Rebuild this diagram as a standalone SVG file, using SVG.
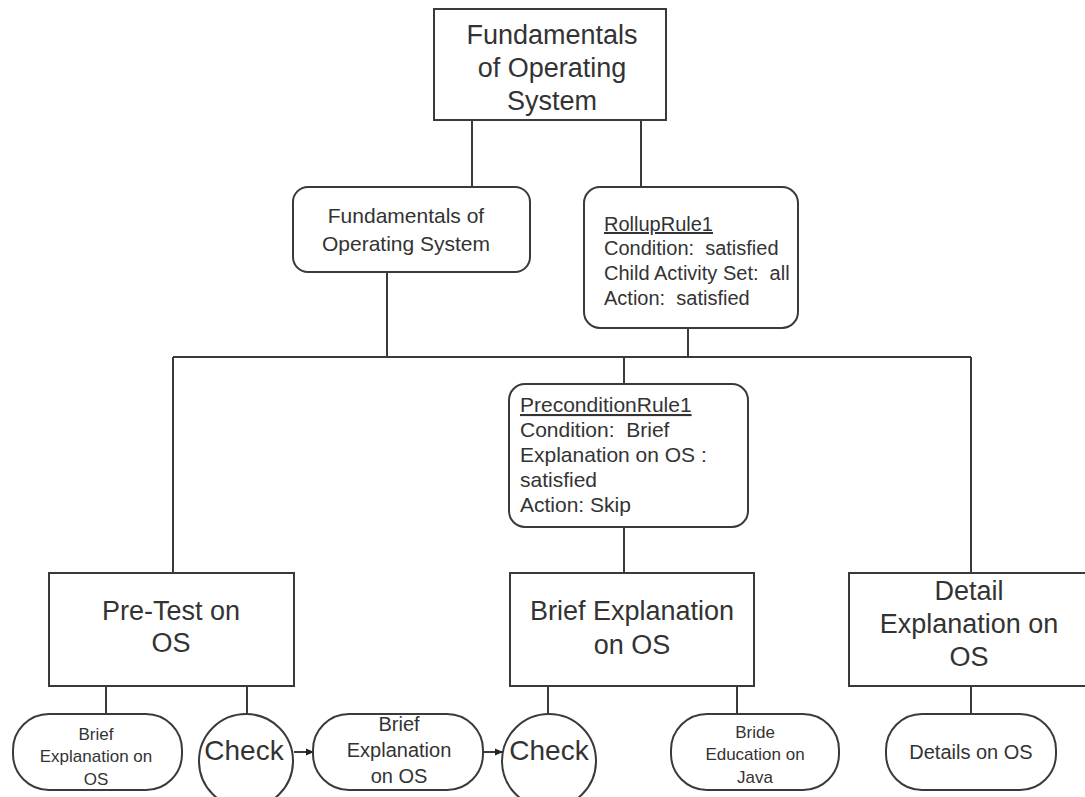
<svg xmlns="http://www.w3.org/2000/svg" width="1085" height="797" viewBox="0 0 1085 797">
<style>
.box{fill:#fff;stroke:#3a3a3a;stroke-width:2}
.ln{stroke:#3a3a3a;stroke-width:2;fill:none}
text{font-family:"Liberation Sans",Arial,sans-serif;fill:#333}
.c{text-anchor:middle}
.big{font-size:27px}
.mid{font-size:21px}
.rr{font-size:20px}
.sm{font-size:17px}
.u{text-decoration:underline}
</style>
<defs>
<marker id="ah" markerWidth="8" markerHeight="8" refX="7" refY="4" orient="auto" markerUnits="userSpaceOnUse">
<path d="M0,0.5 L8,4 L0,7.5 Z" fill="#222"/>
</marker>
</defs>
<rect width="1085" height="797" fill="#fff"/>
<g id="connectors">
<path class="ln" d="M472,120 V187 M641,120 V187 M387,272 V357 M688,328 V357 M173,357 H971 M173,357 V573 M624,357 V384 M624,527 V573 M971,357 V573 M106,686 V714 M247,686 V714 M548,686 V714 M737,686 V714 M971,686 V714"/>
<line class="ln" x1="294" y1="752" x2="313" y2="752" marker-end="url(#ah)"/>
<line class="ln" x1="483" y1="752" x2="502" y2="752" marker-end="url(#ah)"/>
</g>
<g id="top">
<rect class="box" x="434" y="9" width="232" height="111"/>
<text class="c big" x="552" y="44">Fundamentals</text>
<text class="c big" x="552" y="77">of Operating</text>
<text class="c big" x="552" y="110">System</text>
</g>
<g id="fos">
<rect class="box" x="293" y="187" width="237" height="85" rx="15"/>
<text class="c mid" x="406" y="223">Fundamentals of</text>
<text class="c mid" x="406" y="251">Operating System</text>
</g>
<g id="rollup">
<rect class="box" x="584" y="187" width="214" height="141" rx="16"/>
<text class="rr u" x="604" y="231">RollupRule1</text>
<text class="rr" x="604" y="255" xml:space="preserve">Condition:  satisfied</text>
<text class="rr" x="604" y="280" xml:space="preserve">Child Activity Set:  all</text>
<text class="rr" x="604" y="305" xml:space="preserve">Action:  satisfied</text>
</g>
<g id="precondition">
<rect class="box" x="509" y="384" width="239" height="143" rx="16"/>
<text class="mid u" x="520" y="412">PreconditionRule1</text>
<text class="mid" x="520" y="437" xml:space="preserve">Condition:  Brief</text>
<text class="mid" x="520" y="462">Explanation on OS :</text>
<text class="mid" x="520" y="487">satisfied</text>
<text class="mid" x="520" y="512">Action: Skip</text>
</g>
<g id="pretest">
<rect class="box" x="49" y="573" width="245" height="113"/>
<text class="c big" x="171" y="620">Pre-Test on</text>
<text class="c big" x="171" y="652">OS</text>
</g>
<g id="brief">
<rect class="box" x="510" y="573" width="244" height="113"/>
<text class="c big" x="632" y="620">Brief Explanation</text>
<text class="c big" x="632" y="654">on OS</text>
</g>
<g id="detail">
<rect class="box" x="849" y="573" width="245" height="113"/>
<text class="c big" x="969" y="600">Detail</text>
<text class="c big" x="969" y="633">Explanation on</text>
<text class="c big" x="969" y="666">OS</text>
</g>
<g id="brief1">
<rect class="box" x="13" y="714" width="169" height="76" rx="36"/>
<text class="c sm" x="96" y="740">Brief</text>
<text class="c sm" x="96" y="762">Explanation on</text>
<text class="c sm" x="96" y="785">OS</text>
</g>
<g id="check1">
<circle class="box" cx="246" cy="761" r="47"/>
<text class="c" style="font-size:28px" x="244" y="760">Check</text>
</g>
<g id="brief2">
<rect class="box" x="313" y="714" width="170" height="76" rx="36"/>
<text class="c" style="font-size:20px" x="399" y="731">Brief</text>
<text class="c" style="font-size:20px" x="399" y="757">Explanation</text>
<text class="c" style="font-size:20px" x="399" y="783">on OS</text>
</g>
<g id="check2">
<circle class="box" cx="549" cy="761" r="47"/>
<text class="c" style="font-size:28px" x="549" y="760">Check</text>
</g>
<g id="bride">
<rect class="box" x="671" y="714" width="168" height="76" rx="36"/>
<text class="c sm" x="755" y="738">Bride</text>
<text class="c sm" x="755" y="760">Education on</text>
<text class="c sm" x="755" y="783">Java</text>
</g>
<g id="details">
<rect class="box" x="886" y="714" width="170" height="76" rx="36"/>
<text class="c" style="font-size:20px" x="971" y="759">Details on OS</text>
</g>
</svg>
